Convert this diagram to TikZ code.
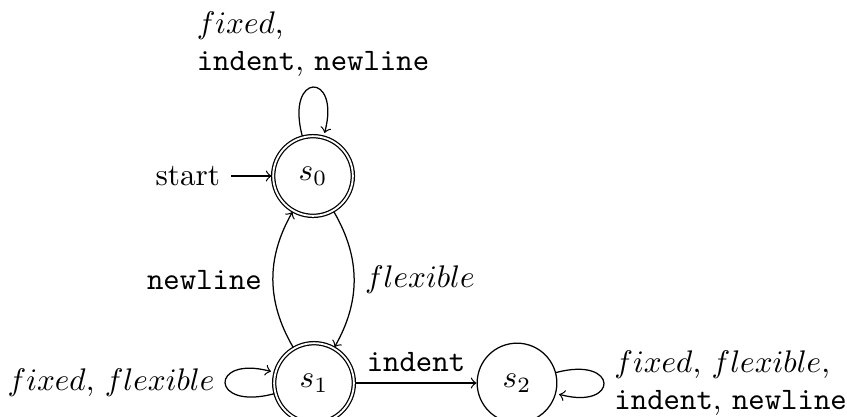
\documentclass[tikz,border=0pt]{standalone}
\usetikzlibrary{automata,arrows}
\begin{document}
\begin{tikzpicture}[x=0.32pt,y=0.32pt,->,auto,
  every state/.style={draw,minimum size=25.5pt,inner sep=0pt},
  initial text=start,
  lbl/.style={align=left}]
\useasboundingbox (0,0) rectangle (847,416);
\node[state,initial,accepting] (s0) at (313,240) {$s_0$};
\node[state,accepting] (s1) at (314,33) {$s_1$};
\node[state] (s2) at (517,33) {$s_2$};
\path (s0) edge[loop above] node[lbl] {$fixed$,\\ \texttt{indent}, \texttt{newline}} (s0)
 (s0) edge[bend left] node {$flexible$} (s1)
 (s1) edge[bend left] node {\texttt{newline}} (s0)
 (s1) edge[loop left] node {$fixed$, $flexible$} (s1)
 (s1) edge node {\texttt{indent}} (s2)
 (s2) edge[loop right] node[lbl] {$fixed$, $flexible$,\\ \texttt{indent}, \texttt{newline}} (s2);
\end{tikzpicture}
\end{document}
